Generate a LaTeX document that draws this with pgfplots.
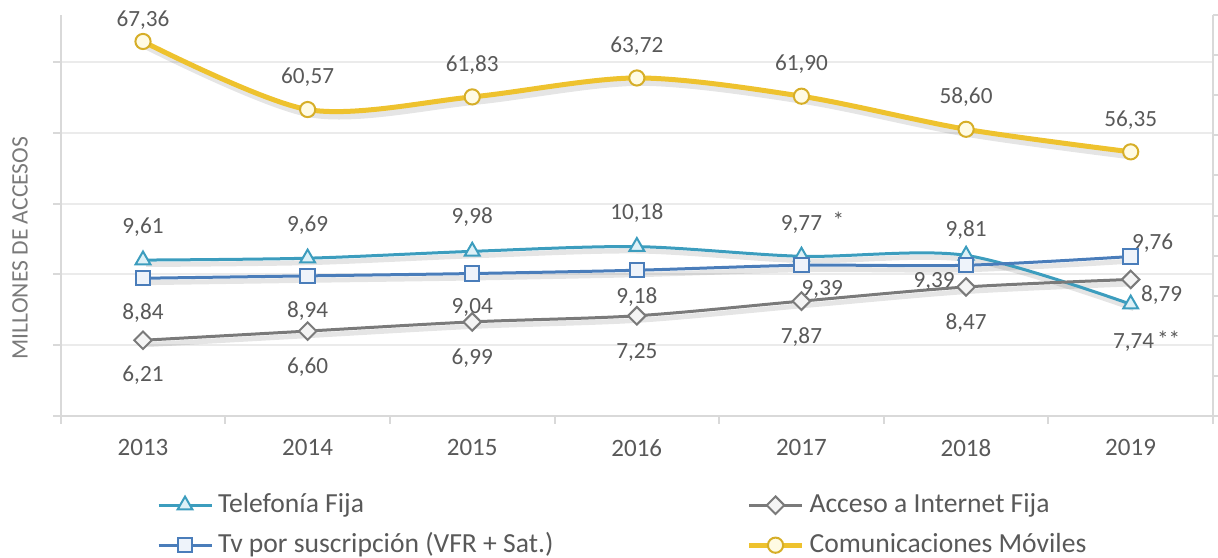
\documentclass[border=0pt]{standalone}
\usepackage{pgfplots}
\pgfplotsset{compat=1.18}
\usepackage{pgfplotstable}
\usepackage{fontspec}
\setmainfont{Carlito}
\definecolor{cTel}{HTML}{3C9DBE}
\definecolor{cTelF}{HTML}{DDF1F7}
\definecolor{cTv}{HTML}{4A7DBA}
\definecolor{cTvF}{HTML}{EEF3FA}
\definecolor{cInt}{HTML}{7A7A7A}
\definecolor{cIntF}{HTML}{F4F4F4}
\definecolor{cMov}{HTML}{EEC22E}
\definecolor{cMovD}{HTML}{D6AE28}
\definecolor{cMovF}{HTML}{FFFBE3}
\definecolor{txt}{HTML}{595959}
\definecolor{axc}{HTML}{D9D9D9}
\definecolor{gridc}{HTML}{EBEBEB}

\pgfplotstableread{
year tel tv int mov
2013 9.61 8.84 6.21 67.36
2014 9.69 8.94 6.60 60.57
2015 9.98 9.04 6.99 61.83
2016 10.18 9.18 7.25 63.72
2017 9.77 9.39 7.87 61.90
2018 9.81 9.39 8.47 58.60
2019 7.74 9.76 8.79 56.35
}\datatab

\newcommand{\lab}[5]{\node[font=\fontsize{11.6}{11.6}\selectfont, text=txt, inner sep=0pt, xshift=#4, yshift=#5] at (axis cs:#1,#2) {#3};}

\pgfplotsset{
  telstyle/.style={cTel, line width=1.5pt, smooth, mark=triangle*, mark size=4.3pt, mark options={solid, draw=cTel, fill=cTelF, line width=1pt}},
  tvstyle/.style={cTv, line width=1.5pt, smooth, mark=square*, mark size=3.6pt, mark options={solid, draw=cTv, fill=cTvF, line width=1pt}},
  intstyle/.style={cInt, line width=1.5pt, smooth, mark=square*, mark size=3.1pt, mark options={solid, rotate=45, draw=cInt, fill=cIntF, line width=1pt}},
  movstyle/.style={cMov, line width=2.5pt, smooth, mark=*, mark size=3.8pt, mark options={solid, draw=cMovD, fill=cMovF, line width=1pt}},
  shadow/.style={black, opacity=0.10, line width=#1, smooth, no marks, forget plot, xshift=1.5pt, yshift=-2.2pt},
}

\begin{document}
\begin{tikzpicture}
\path[use as bounding box] (-30.35pt,-70.5pt) rectangle (578.65pt,208pt);
\begin{axis}[
  at={(0pt,0pt)}, anchor=south west,
  scale only axis, width=576.15pt, height=200.5pt,
  xmin=2012.5, xmax=2019.5, ymin=3, ymax=20,
  axis lines*=left,
  axis line style={axc, line width=1pt},
  xtick={2012.5,2013.5,...,2019.5}, xticklabels={},
  extra x ticks={2013,2014,...,2019},
  extra x tick labels={2013,2014,2015,2016,2017,2018,2019},
  extra x tick style={major tick length=0pt, grid=none,
     tick label style={font=\fontsize{12.5}{12.5}\selectfont, text=txt, yshift=-8.3pt}},
  ytick={3,6,...,18}, yticklabels={},
  tick align=outside, major tick length=3.8pt,
  tick style={axc, line width=1pt},
  ymajorgrids, grid style={gridc, line width=1pt},
  ylabel={MILLONES DE ACCESOS},
  ylabel style={at={(axis description cs:-0.0353,0.419)}, anchor=center,
     font=\fontsize{11.8}{11.8}\selectfont, text=cInt},
  clip=false,
  transpose legend, legend columns=2,
  legend cell align=left,
  legend image code/.code={\draw[mark repeat=2,mark phase=2,#1] plot coordinates {(0pt,0pt) (13.25pt,0pt) (26.5pt,0pt)};},
  legend style={at={(axis description cs:0.0836,-0.19)}, anchor=north west,
     draw=none, fill=none, inner sep=0pt, outer sep=0pt,
     font=\fontsize{13.8}{13.8}\selectfont, text=txt,
     nodes={inner sep=0pt, text height=10pt, text depth=3pt},
     row sep=7pt,
     /tikz/every odd column/.append style={column sep=2.5pt},
     /tikz/every even column/.append style={column sep=96.5pt}},
]
\addplot[shadow=2.5pt] table[x=year,y=tel] {\datatab};
\addplot[shadow=2.5pt] table[x=year,y=tv] {\datatab};
\addplot[shadow=2.5pt] table[x=year,y=int] {\datatab};

\addplot[telstyle] table[x=year,y=tel] {\datatab};
\addlegendentry{Telefonía Fija}
\addplot[tvstyle] table[x=year,y=tv] {\datatab};
\addlegendentry{Tv por suscripción (VFR + Sat.)}
\addplot[intstyle] table[x=year,y=int] {\datatab};
\addlegendentry{Acceso a Internet Fija}
\addlegendimage{movstyle}
\addlegendentry{Comunicaciones Móviles}

\lab{2013}{9.61}{9,61}{0pt}{16.5pt}
\lab{2014}{9.69}{9,69}{0pt}{16.5pt}
\lab{2015}{9.98}{9,98}{0pt}{17pt}
\lab{2016}{10.18}{10,18}{0pt}{16.8pt}
\lab{2017}{9.77}{9,77}{0pt}{16pt}
\lab{2017}{9.77}{*}{18.5pt}{18pt}
\lab{2018}{9.81}{9,81}{0pt}{12.6pt}
\lab{2019}{7.74}{7,74}{1.5pt}{-19pt}
\lab{2019}{7.74}{**}{19pt}{-17.5pt}

\lab{2013}{8.84}{8,84}{0pt}{-17.4pt}
\lab{2014}{8.94}{8,94}{0pt}{-17.5pt}
\lab{2015}{9.04}{9,04}{0pt}{-17.2pt}
\lab{2016}{9.18}{9,18}{0pt}{-13.5pt}
\lab{2017}{9.39}{9,39}{10.4pt}{-12pt}
\lab{2018}{9.39}{9,39}{-16pt}{-8pt}
\lab{2019}{9.76}{9,76}{11pt}{6.8pt}

\lab{2013}{6.21}{6,21}{0pt}{-17.4pt}
\lab{2014}{6.60}{6,60}{0pt}{-18pt}
\lab{2015}{6.99}{6,99}{0pt}{-18pt}
\lab{2016}{7.25}{7,25}{0pt}{-18.2pt}
\lab{2017}{7.87}{7,87}{0pt}{-18pt}
\lab{2018}{8.47}{8,47}{0pt}{-18pt}
\lab{2019}{8.79}{8,79}{15.5pt}{-7.8pt}
\end{axis}

\begin{axis}[
  at={(0pt,0pt)}, anchor=south west,
  scale only axis, width=576.15pt, height=200.5pt,
  xmin=2012.5, xmax=2019.5, ymin=30, ymax=70,
  axis x line=none, axis y line*=right,
  axis line style={axc, line width=1pt},
  ytick={30,34,...,70}, yticklabels={},
  tick align=outside, major tick length=2.5pt,
  tick style={axc, line width=1pt},
  clip=false,
]
\addplot[shadow=3.5pt] table[x=year,y=mov] {\datatab};
\addplot[movstyle] table[x=year,y=mov] {\datatab};
\lab{2013}{67.36}{67,36}{0pt}{10.5pt}
\lab{2014}{60.57}{60,57}{0pt}{16pt}
\lab{2015}{61.83}{61,83}{0pt}{16pt}
\lab{2016}{63.72}{63,72}{0pt}{16pt}
\lab{2017}{61.90}{61,90}{0pt}{16pt}
\lab{2018}{58.60}{58,60}{0pt}{16pt}
\lab{2019}{56.35}{56,35}{0pt}{16pt}
\end{axis}
\end{tikzpicture}
\end{document}
